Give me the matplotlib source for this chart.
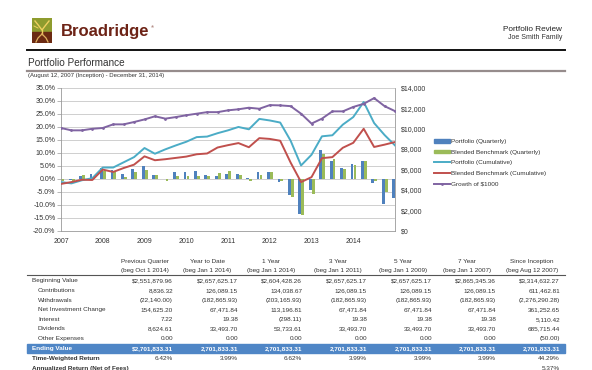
import matplotlib
matplotlib.use('Agg')
import matplotlib.pyplot as plt
from matplotlib.patches import Rectangle, Patch, Polygon
from matplotlib.lines import Line2D
import numpy as np

plt.rcParams['font.family'] = ['Liberation Sans', 'DejaVu Sans']

# ---------------- data ----------------
years = ["2007", "2008", "2009", "2010", "2011", "2012", "2013", "2014"]
portfolio_q = [-1.5, -0.4, 1.2, 1.9, 4.3, 3.2, 1.8, 3.6, 5.0, 1.3, -0.2, 2.6, 2.6, 2.8, 1.6, 1.2,
               2.0, 2.0, 0.1, 2.4, 2.7, -1.1, -6.3, -13.5, -4.5, 10.9, 6.7, 4.1, 5.8, 6.8, -1.5, -9.6, -7.3]
benchmark_q = [-1.0, -1.0, 1.6, 1.0, 3.0, 2.5, 0.5, 2.4, 3.5, 1.6, -0.9, 1.0, 0.9, 1.0, 1.0, 2.2,
               2.8, 1.4, -0.8, 1.3, 2.7, -0.8, -7.2, -14.1, -5.8, 9.4, 7.4, 3.6, 5.1, 6.7, -1.0, -5.1, 2.1]
portfolio_cum = [-1.3, -1.8, -0.6, 0.2, 4.3, 4.3, 6.3, 8.3, 11.8, 9.6, 11.3, 12.8, 14.2, 16.0, 16.2, 17.5,
                 18.6, 19.9, 19.0, 23.0, 22.4, 21.6, 14.6, 5.1, 9.2, 16.3, 16.7, 20.8, 23.7, 29.5, 21.4, 16.8, 12.8]
benchmark_cum = [-2.0, -1.3, -0.4, -0.5, 3.5, 2.6, 4.1, 5.4, 8.6, 7.1, 7.5, 8.0, 8.5, 9.4, 9.7, 12.0,
                 12.9, 13.7, 12.1, 15.6, 15.3, 14.6, 6.2, -1.3, 0.6, 7.9, 8.3, 11.9, 13.8, 19.2, 12.2, 13.1, 14.1]
growth = [10055, 9825, 9825, 9978, 10055, 10411, 10411, 10640, 10895, 11200, 10971, 11124, 11302, 11455,
          11607, 11607, 11785, 11887, 12040, 11938, 12295, 12269, 12193, 11455, 10487, 10971, 11684,
          11684, 12116, 12422, 12982, 12193, 11709]

legend_labels = ["Portfolio (Quarterly)", "Blended Benchmark (Quarterly)", "Portfolio (Cumulative)",
                 "Blended Benchmark (Cumulative)", "Growth of $1000"]

col_heads = ["Previous Quarter", "Year to Date", "1 Year", "3 Year", "5 Year", "7 Year", "Since Inception"]
col_subs = ["(beg Oct 1 2014)", "(beg Jan 1 2014)", "(beg Jan 1 2014)", "(beg Jan 1 2011)",
            "(beg Jan 1 2009)", "(beg Jan 1 2007)", "(beg Aug 12 2007)"]
row_labels = ["Beginning Value", "Contributions", "Withdrawals", "Net Investment Change",
              "Interest", "Dividends", "Other Expenses"]
beginning = ["$2,551,879.96", "$2,657,625.17", "$2,604,428.26", "$2,657,625.17", "$2,657,625.17", "$2,865,345.36", "$3,314,632.27"]
contributions = ["8,836.32", "126,089.15", "134,038.67", "126,089.15", "126,089.15", "126,089.15", "611,462.81"]
withdrawals = ["(22,140.00)", "(182,865.93)", "(203,165.93)", "(182,865.93)", "(182,865.93)", "(182,865.93)", "(2,276,290.28)"]
net_change = ["154,625.20", "67,471.84", "113,196.81", "67,471.84", "67,471.84", "67,471.84", "361,252.65"]
interest = ["7.22", "19.38", "(298.11)", "19.38", "19.38", "19.38", "5,110.42"]
dividends = ["8,624.61", "33,493.70", "53,733.61", "33,493.70", "33,493.70", "33,493.70", "685,715.44"]
other_exp = ["0.00", "0.00", "0.00", "0.00", "0.00", "0.00", "(50.00)"]
ending = ["$2,701,833.31", "2,701,833.31", "2,701,833.31", "2,701,833.31", "2,701,833.31", "2,701,833.31", "2,701,833.31"]
twr = ["6.42%", "3.99%", "6.62%", "3.99%", "3.99%", "3.99%", "44.29%"]
annualized = ["", "", "", "", "", "", "5.37%"]

# ---------------- figure ----------------
W, H = 592, 370
fig = plt.figure(figsize=(W / 100, H / 100), dpi=100)
fig.patch.set_facecolor('white')


def fx(x):
    return x / W


def fy(y):
    return 1 - y / H


def txt(x, y, s, **kw):
    fig.text(fx(x), fy(y), s, **kw)


def hline(y, x0, x1, **kw):
    fig.add_artist(Line2D([fx(x0), fx(x1)], [fy(y), fy(y)], **kw))


TXT = '#333333'

# logo
lax = fig.add_axes([fx(32), fy(43), 20 / W, 25 / H])
lax.set_xlim(0, 20); lax.set_ylim(0, 25); lax.axis('off')
lax.add_patch(Rectangle((0, 11), 20, 14, color='#8e9c2e'))
lax.add_patch(Rectangle((0, 0), 20, 11, color='#6b2a12'))
lax.plot([3, 7, 10, 13, 17], [22, 17, 13, 17, 22], color='#f0d060', lw=1.0)
lax.plot([10, 10], [13, 9], color='#f0d060', lw=1.0)
lax.plot([10, 6, 4], [9, 5, 1], color='#e0b060', lw=0.9)
lax.plot([10, 14, 16], [9, 5, 1], color='#e0b060', lw=0.9)
lax.plot([2, 6], [17, 15], color='#f0d060', lw=0.7)

txt(61, 31.5, "Broadridge", fontsize=12, fontweight='bold', color='#6d2316', va='center', ha='left')
txt(151, 27, "®", fontsize=3, color='#6d2316', va='center', ha='left')

txt(562, 29.3, "Portfolio Review", fontsize=5.9, color='#222222', va='center', ha='right')
txt(562, 37.7, "Joe Smith Family", fontsize=5.0, color='#333333', va='center', ha='right')
hline(50, 27, 565, color='#111111', lw=1.4)
txt(28, 63.3, "Portfolio Performance", fontsize=7.2, color='#333333', va='center', ha='left')
hline(70.7, 27, 565, color='#968c8c', lw=1.6)
txt(28, 75.8, "(August 12, 2007 (Inception) - December 31, 2014)", fontsize=4.3, color=TXT, va='center', ha='left')

# ---------------- chart ----------------
x = np.arange(len(growth))
ax = fig.add_axes([fx(61), fy(230.7), (395 - 61) / W, (230.7 - 87.7) / H])
ax.set_xlim(0, len(growth) - 1)
ax.set_ylim(-20, 35)
yt = np.arange(-20, 36, 5)
ax.set_yticks(yt)
ax.set_yticklabels([f"{v:.1f}%" for v in yt])
ax.set_xticks(np.arange(0, len(growth), 4)[:len(years)])
ax.set_xticklabels(years)
ax.yaxis.grid(True, color='#c8c8c8', lw=0.6)
ax.set_axisbelow(True)
for s in ['top']:
    ax.spines[s].set_visible(False)
for s in ['left', 'bottom', 'right']:
    ax.spines[s].set_color('#999999')
    ax.spines[s].set_linewidth(0.6)
ax.tick_params(axis='y', labelsize=5, colors='#999999', labelcolor=TXT, length=3, width=0.5, pad=1)
ax.tick_params(axis='x', labelsize=5, labelcolor=TXT, length=0, pad=5)

ax.bar(x - 0.12, portfolio_q, width=0.27, color='#4f81bd', zorder=2)
ax.bar(x + 0.16, benchmark_q, width=0.27, color='#9bbb59', zorder=2)
ax.plot(x, portfolio_cum, color='#4bacc6', lw=1.4, zorder=3)
ax.plot(x, benchmark_cum, color='#c0504d', lw=1.4, zorder=3)

ax2 = ax.twinx()
ax2.set_ylim(0, 14000)
rt = np.arange(0, 14001, 2000)
ax2.set_yticks(rt)
ax2.set_yticklabels([f"${v:,.0f}" for v in rt])
ax2.tick_params(axis='y', labelsize=5, labelcolor=TXT, length=0, pad=4)
for s in ax2.spines.values():
    s.set_visible(False)
ax2.plot(x, growth, color='#8064a2', lw=1.4, marker='o', ms=1.0, zorder=3)

handles = [Patch(color='#4f81bd'), Patch(color='#9bbb59'),
           Line2D([], [], color='#4bacc6', lw=1.4), Line2D([], [], color='#c0504d', lw=1.4),
           Line2D([], [], color='#8064a2', lw=1.4, marker='o', ms=1.0)]
fig.legend(handles, legend_labels, loc='upper left', bbox_to_anchor=(fx(434), fy(139)),
           frameon=False, fontsize=4.6, handlelength=2.5, handleheight=0.55, handletextpad=0.15,
           labelspacing=0.85, borderaxespad=0, borderpad=0, labelcolor=TXT)

# ---------------- table ----------------
FS = 4.6
rights = [173, 238, 302, 367, 432, 496, 560]
centers = [145, 207, 271, 338, 403, 467, 532]
for c, h, sub in zip(centers, col_heads, col_subs):
    txt(c, 261.7, h, fontsize=FS, color=TXT, ha='center', va='center')
    txt(c, 270.7, sub, fontsize=FS, color=TXT, ha='center', va='center')
hline(274.6, 27, 565, color='#555555', lw=0.8)

rows_y = [280.7, 290.7, 300.3, 310.0, 319.3, 329.0, 338.7]
rows_vals = [beginning, contributions, withdrawals, net_change, interest, dividends, other_exp]
for i, (lab, yv, vals) in enumerate(zip(row_labels, rows_y, rows_vals)):
    txt(32 if i == 0 else 38, yv, lab, fontsize=FS, color=TXT, ha='left', va='center')
    for r, v in zip(rights, vals):
        txt(r, yv, v, fontsize=FS, color=TXT, ha='right', va='center')

fig.add_artist(Rectangle((fx(27), fy(353.4)), (565 - 27) / W, 9.2 / H, color='#4f86c6',
                         transform=fig.transFigure))
txt(32, 348.8, "Ending Value", fontsize=FS, color='white', fontweight='bold', ha='left', va='center')
for r, v in zip(rights, ending):
    txt(r, 348.8, v, fontsize=FS, color='white', fontweight='bold', ha='right', va='center')

txt(32, 358.7, "Time-Weighted Return", fontsize=FS, color=TXT, fontweight='bold', ha='left', va='center')
for r, v in zip(rights, twr):
    txt(r, 358.7, v, fontsize=FS, color=TXT, ha='right', va='center')
txt(32, 368.6, "Annualized Return (Net of Fees)", fontsize=FS, color=TXT, fontweight='bold', ha='left', va='center')
for r, v in zip(rights, annualized):
    if v:
        txt(r, 368.6, v, fontsize=FS, color=TXT, ha='right', va='center')

fig.savefig('out.png', dpi=100, facecolor='white')
